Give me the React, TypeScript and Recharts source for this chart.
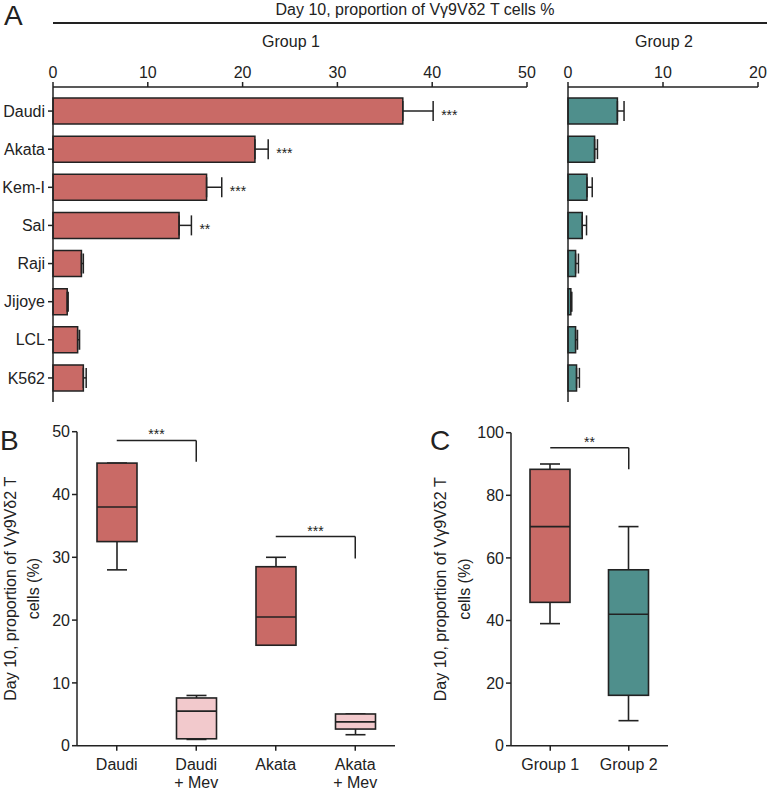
import React from "react";
import {
  BarChart,
  Bar,
  XAxis,
  YAxis,
  ErrorBar,
  LabelList,
  ReferenceLine,
  Cell,
} from "recharts";

const FONT = "'Liberation Sans', Arial, Helvetica, sans-serif";
const INK = "#222222";
const RED = "#c96a66";
const TEAL = "#4f8f8c";
const PINK = "#f2c9cc";

// Panel A: day 10 proportion per cell line (mean + SEM)
const cellLines = ["Daudi", "Akata", "Kem-I", "Sal", "Raji", "Jijoye", "LCL", "K562"];
const group1Mean = [36.9, 21.3, 16.2, 13.3, 3.0, 1.5, 2.6, 3.2];
const group1Sem = [3.2, 1.4, 1.6, 1.3, 0.2, 0.1, 0.2, 0.3];
const group1Sig = ["***", "***", "***", "**", "", "", "", ""];
const group2Mean = [5.2, 2.8, 2.0, 1.5, 0.8, 0.3, 0.8, 0.9];
const group2Sem = [0.7, 0.3, 0.55, 0.45, 0.3, 0.1, 0.2, 0.3];
const group1Ticks = [0, 10, 20, 30, 40, 50];
const group2Ticks = [0, 10, 20];

// Panel B: box plots, with / without mevastatin
const bCats = ["Daudi", "Daudi + Mev", "Akata", "Akata + Mev"];
const bMin = [28, 1.0, 16, 1.75];
const bQ1 = [32.5, 1.1, 16, 2.65];
const bMed = [38, 5.5, 20.5, 3.8];
const bQ3 = [45, 7.6, 28.5, 5.05];
const bMax = [45, 8.0, 30, 5.05];
const bTicks = [0, 10, 20, 30, 40, 50];
const bFill = [RED, PINK, RED, PINK];
const bBracketFrom = ["Daudi", "Akata"];
const bBracketTo = ["Daudi + Mev", "Akata + Mev"];
const bBracketTop = [48.6, 33.3];
const bBracketDrop = [45.2, 29.8];
const bBracketSig = ["***", "***"];

// Panel C: group comparison
const cCats = ["Group 1", "Group 2"];
const cMin = [39, 8];
const cQ1 = [45.8, 16.1];
const cMed = [70, 42];
const cQ3 = [88.3, 56.2];
const cMax = [90, 70];
const cTicks = [0, 20, 40, 60, 80, 100];
const cFill = [RED, TEAL];

const g1Data = cellLines.map((name, i) => ({
  name,
  mean: group1Mean[i],
  err: [0, group1Sem[i]],
  sig: group1Sig[i],
}));
const g2Data = cellLines.map((name, i) => ({
  name,
  mean: group2Mean[i],
  err: [0, group2Sem[i]],
}));
const bData = bCats.map((name, i) => ({
  name,
  range: [bMin[i], bMax[i]],
  lo: bMin[i],
  q1: bQ1[i],
  med: bMed[i],
  q3: bQ3[i],
  hi: bMax[i],
}));
const cData = cCats.map((name, i) => ({
  name,
  range: [cMin[i], cMax[i]],
  lo: cMin[i],
  q1: cQ1[i],
  med: cMed[i],
  q3: cQ3[i],
  hi: cMax[i],
}));

const tickStyle = { fill: INK, fontSize: 16, fontFamily: FONT };
const axisLine = { stroke: INK, strokeWidth: 1.5 };

const StarLabel = (props: any) => {
  const vb = props.viewBox ?? props;
  const i = props.index;
  const s = group1Sig[i];
  if (!s) return null;
  const v = group1Mean[i];
  const e = group1Sem[i];
  const end = vb.x + (vb.width * (v + e)) / v;
  return (
    <text x={end + 8} y={vb.y + vb.height / 2 + 9} fontSize={14} fontFamily={FONT} fill={INK}>
      {s}
    </text>
  );
};

const BoxShape = (props: any) => {
  const { x, y, width, height, payload, fill } = props;
  const top = Math.min(y, y + height);
  const h = Math.abs(height);
  const { lo, q1, med, q3, hi } = payload;
  const py = (v: number) => top + (h * (hi - v)) / (hi - lo);
  const cx = x + width / 2;
  const cap = width / 4;
  return (
    <g stroke={INK} strokeWidth={1.6}>
      <line x1={cx} x2={cx} y1={py(hi)} y2={py(q3)} />
      <line x1={cx - cap} x2={cx + cap} y1={py(hi)} y2={py(hi)} />
      <line x1={cx} x2={cx} y1={py(q1)} y2={py(lo)} />
      <line x1={cx - cap} x2={cx + cap} y1={py(lo)} y2={py(lo)} />
      <rect x={x} y={py(q3)} width={width} height={py(q1) - py(q3)} fill={fill} />
      <line x1={x} x2={x + width} y1={py(med)} y2={py(med)} />
    </g>
  );
};

const TwoLineTick = (props: any) => {
  const { x, y, payload } = props;
  const parts = String(payload.value).split(" + ");
  return (
    <text x={x} y={y} textAnchor="middle" fontSize={16} fontFamily={FONT} fill={INK}>
      <tspan x={x} dy="0.71em">{parts[0]}</tspan>
      {parts[1] && (
        <tspan x={x} dy="18">{"+ " + parts[1]}</tspan>
      )}
    </text>
  );
};

const AxisTitle = (props: any) => {
  const vb = props.viewBox;
  const cy = vb.y + vb.height / 2;
  return (
    <g fontFamily={FONT} fontSize={16} fill={INK}>
      <text
        transform={`translate(${props.x1},${cy}) rotate(-90)`}
        textAnchor="middle"
        dominantBaseline="central"
      >
        Day 10, proportion of Vγ9Vδ2 T
      </text>
      <text
        transform={`translate(${props.x2},${cy}) rotate(-90)`}
        textAnchor="middle"
        dominantBaseline="central"
      >
        cells (%)
      </text>
    </g>
  );
};

const abs = (left: number, top: number, style: React.CSSProperties = {}): React.CSSProperties => ({
  position: "absolute",
  left,
  top,
  ...style,
});

const centered = (cx: number, cy: number, size: number): React.CSSProperties =>
  abs(cx - 200, cy - 10, {
    width: 400,
    textAlign: "center",
    fontSize: size,
    lineHeight: "20px",
    whiteSpace: "nowrap",
  });

export default function App() {
  return (
    <div
      style={{
        position: "absolute",
        left: 0,
        top: 0,
        width: 767,
        height: 792,
        overflow: "hidden",
        background: "#fff",
        fontFamily: FONT,
        color: INK,
      }}
    >
      {/* panel letters and headings */}
      <div style={abs(4, 1, { fontSize: 28, lineHeight: "30px" })}>A</div>
      <div style={abs(0, 427, { fontSize: 28, lineHeight: "28px" })}>B</div>
      <div style={abs(430, 427, { fontSize: 28, lineHeight: "28px" })}>C</div>
      <div style={centered(415, 10, 16)}>Day 10, proportion of Vγ9Vδ2 T cells %</div>
      <div style={abs(53, 22, { width: 714, height: 2, background: INK })} />
      <div style={centered(291, 42, 16)}>Group 1</div>
      <div style={centered(664, 42, 16)}>Group 2</div>

      {/* A, group 1 */}
      <div style={abs(0, 0)}>
        <BarChart
          width={560}
          height={410}
          data={g1Data}
          layout="vertical"
          margin={{ top: 57, right: 33, bottom: 8, left: 0 }}
          barSize={26}
        >
          <XAxis
            type="number"
            orientation="top"
            domain={[0, 50]}
            ticks={group1Ticks}
            height={30}
            tick={tickStyle}
            tickSize={5}
            tickMargin={4}
            axisLine={axisLine}
            tickLine={axisLine}
          />
          <YAxis
            type="category"
            dataKey="name"
            width={53}
            padding={{ top: 5, bottom: 5 }}
            tick={tickStyle}
            tickSize={5}
            tickMargin={3}
            axisLine={axisLine}
            tickLine={axisLine}
          />
          <Bar dataKey="mean" fill={RED} stroke={INK} strokeWidth={1.5} isAnimationActive={false}>
            <ErrorBar dataKey="err" direction="x" width={10} stroke={INK} strokeWidth={1.5} />
            <LabelList dataKey="sig" content={<StarLabel />} />
          </Bar>
        </BarChart>
      </div>

      {/* A, group 2 */}
      <div style={abs(540, 0)}>
        <BarChart
          width={227}
          height={410}
          data={g2Data}
          layout="vertical"
          margin={{ top: 57, right: 9, bottom: 8, left: 0 }}
          barSize={26}
        >
          <XAxis
            type="number"
            orientation="top"
            domain={[0, 20]}
            ticks={group2Ticks}
            height={30}
            tick={tickStyle}
            tickSize={5}
            tickMargin={4}
            axisLine={axisLine}
            tickLine={axisLine}
          />
          <YAxis
            type="category"
            dataKey="name"
            width={28}
            padding={{ top: 5, bottom: 5 }}
            tick={false}
            tickLine={false}
            axisLine={axisLine}
          />
          <Bar dataKey="mean" fill={TEAL} stroke={INK} strokeWidth={1.5} isAnimationActive={false}>
            <ErrorBar dataKey="err" direction="x" width={10} stroke={INK} strokeWidth={1.5} />
          </Bar>
        </BarChart>
      </div>

      {/* B */}
      <div style={abs(0, 410)}>
        <BarChart
          width={400}
          height={382}
          data={bData}
          margin={{ top: 21.7, right: 5, bottom: 0, left: 0 }}
          barSize={40}
        >
          <XAxis
            dataKey="name"
            height={46.3}
            interval={0}
            tick={<TwoLineTick />}
            tickSize={5}
            tickMargin={8}
            axisLine={axisLine}
            tickLine={axisLine}
          />
          <YAxis
            type="number"
            domain={[0, 50]}
            ticks={bTicks}
            width={77}
            tick={tickStyle}
            tickSize={5}
            tickMargin={2}
            axisLine={axisLine}
            tickLine={axisLine}
            label={<AxisTitle x1={10} x2={33} />}
          />
          <Bar dataKey="range" shape={<BoxShape />} isAnimationActive={false}>
            {bData.map((_, i) => (
              <Cell key={i} fill={bFill[i]} />
            ))}
          </Bar>
          {bBracketFrom.map((from, i) => (
            <ReferenceLine
              key={"h" + i}
              segment={[
                { x: from, y: bBracketTop[i] },
                { x: bBracketTo[i], y: bBracketTop[i] },
              ]}
              stroke={INK}
              strokeWidth={1.5}
              label={{ value: bBracketSig[i], position: "top", offset: 1, fontSize: 14, fill: INK, fontFamily: FONT }}
            />
          ))}
          {bBracketTo.map((to, i) => (
            <ReferenceLine
              key={"v" + i}
              segment={[
                { x: to, y: bBracketTop[i] },
                { x: to, y: bBracketDrop[i] },
              ]}
              stroke={INK}
              strokeWidth={1.5}
            />
          ))}
        </BarChart>
      </div>

      {/* C */}
      <div style={abs(420, 410)}>
        <BarChart
          width={260}
          height={382}
          data={cData}
          margin={{ top: 22.7, right: 12, bottom: 0, left: 0 }}
          barSize={40}
        >
          <XAxis
            dataKey="name"
            height={46.3}
            interval={0}
            tick={<TwoLineTick />}
            tickSize={5}
            tickMargin={8}
            axisLine={axisLine}
            tickLine={axisLine}
          />
          <YAxis
            type="number"
            domain={[0, 100]}
            ticks={cTicks}
            width={91}
            tick={tickStyle}
            tickSize={5}
            tickMargin={2}
            axisLine={axisLine}
            tickLine={axisLine}
            label={<AxisTitle x1={20} x2={44} />}
          />
          <Bar dataKey="range" shape={<BoxShape />} isAnimationActive={false}>
            {cData.map((_, i) => (
              <Cell key={i} fill={cFill[i]} />
            ))}
          </Bar>
          <ReferenceLine
            segment={[
              { x: cCats[0], y: 95.2 },
              { x: cCats[1], y: 95.2 },
            ]}
            stroke={INK}
            strokeWidth={1.5}
            label={{ value: "**", position: "top", offset: 1, fontSize: 14, fill: INK, fontFamily: FONT }}
          />
          <ReferenceLine
            segment={[
              { x: cCats[1], y: 95.2 },
              { x: cCats[1], y: 88.3 },
            ]}
            stroke={INK}
            strokeWidth={1.5}
          />
        </BarChart>
      </div>
    </div>
  );
}
